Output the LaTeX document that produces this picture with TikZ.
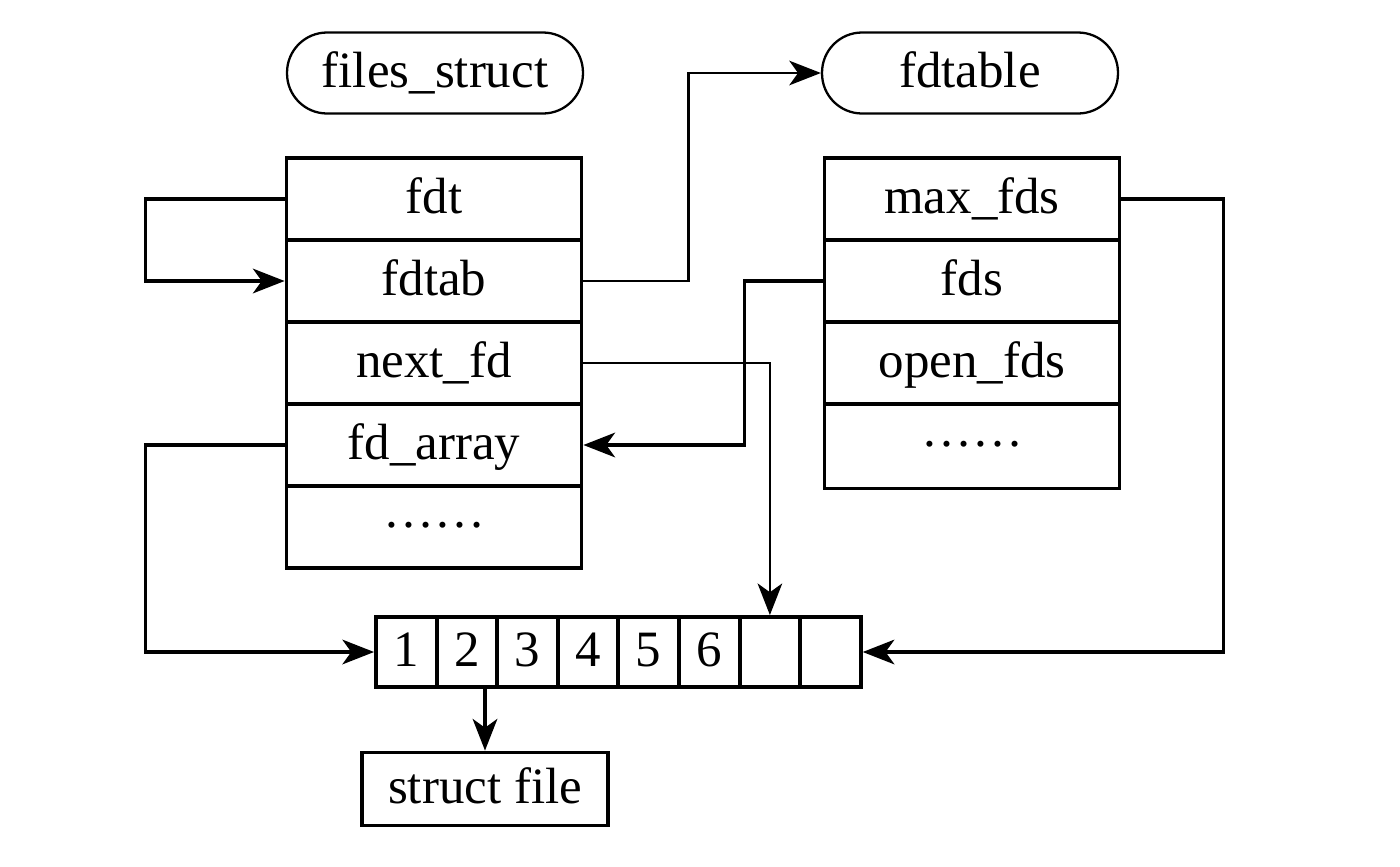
\documentclass[tikz,border=0pt]{standalone}
\usepackage{fontspec}
\setmainfont{Liberation Serif}
\usetikzlibrary{arrows.meta}

\tikzset{every picture/.style={line width=2.2pt,inner sep=0pt},
  every node/.style={font=\fontsize{29pt}{34pt}\selectfont,text height=21pt,text depth=4pt},
  field/.style={draw,rectangle,minimum width=5.9cm,minimum height=1.64cm},
  pill/.style={draw,rectangle,rounded corners=0.8cm,line width=1.3pt,minimum width=5.92cm,minimum height=1.62cm},
  cell/.style={draw,rectangle,minimum width=1.212cm,minimum height=1.4cm},
  link/.style={line width=2pt,-{Stealth[length=18pt,width=14pt,inset=5pt]}},
  thinlink/.style={link,line width=1.3pt}}

\begin{document}
\begin{tikzpicture}[x=0.02cm,y=-0.02cm]
\useasboundingbox (0,0) rectangle (1400,866);
\node[pill] (fs) at (435,73) {files\_struct};
\node[pill] (ft) at (970,73) {fdtable};
% files_struct fields
\node[field] (fdt) at (434,199) {fdt};
\node[field] (fdtab) at (434,281) {fdtab};
\node[field] (nextfd) at (434,363) {next\_fd};
\node[field] (fdarray) at (434,445) {fd\_array};
\node[field,text depth=21pt] (lrest) at (434,527) {……};
% fdtable fields
\node[field] (maxfds) at (972,199) {max\_fds};
\node[field] (fds) at (972,281) {fds};
\node[field] (openfds) at (972,363) {open\_fds};
\node[field,text depth=21pt,minimum height=1.7cm] (rrest) at (972,446) {……};
% fd array
\foreach \i/\t in {1/1,2/2,3/3,4/4,5/5,6/6,7/{},8/{}}
  \node[cell] (c\i) at (376+60.6*\i-30.3,652) {\t};
\node[draw,minimum width=4.92cm,minimum height=1.46cm] (sf) at (485,789) {struct file};

\draw[link] (fdt.west) -- ++(-139,0) |- (fdtab.west);
\draw[thinlink] (fdtab.east) -- ++(105,0) |- (ft.west);
\draw[thinlink] (nextfd.east) -| (c7.north);
\draw[link] (fds.west) -- ++(-78,0) |- (fdarray.east);
\draw[link] (fdarray.west) -- ++(-139,0) |- (c1.west);
\draw[link] (maxfds.east) -- ++(102,0) |- (c8.east);
\draw[link] (sf.north |- c2.south) -- (sf.north);
\end{tikzpicture}
\end{document}
